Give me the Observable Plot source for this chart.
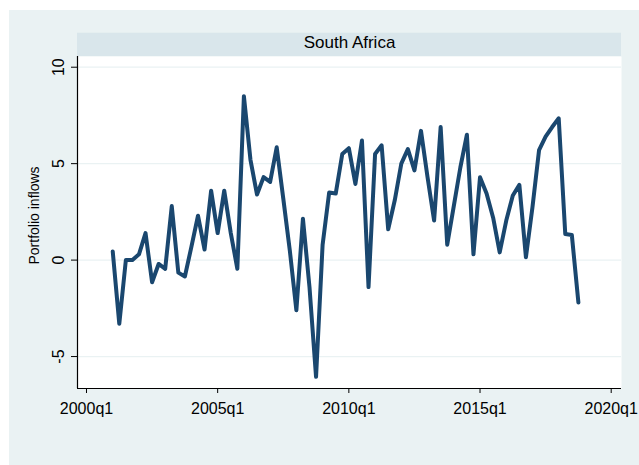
<!DOCTYPE html>
<html><head><meta charset="utf-8">
<script src="https://cdn.jsdelivr.net/npm/d3@7"></script>
<script src="https://cdn.jsdelivr.net/npm/@observablehq/plot@0.6"></script>
<style>
body{margin:0;background:#fff;width:639px;height:465px;overflow:hidden;position:relative;font-family:"Liberation Sans",Arial,sans-serif}
#bg{position:absolute;left:9px;top:10px;width:630px;height:455px;background:#eaf2f3}
#chart{position:absolute;left:0;top:0}
</style></head><body><div id="bg"></div><div id="chart"></div>
<script>
const quarters = [
  "2001q1","2001q2","2001q3","2001q4","2002q1","2002q2","2002q3","2002q4",
  "2003q1","2003q2","2003q3","2003q4","2004q1","2004q2","2004q3","2004q4",
  "2005q1","2005q2","2005q3","2005q4","2006q1","2006q2","2006q3","2006q4",
  "2007q1","2007q2","2007q3","2007q4","2008q1","2008q2","2008q3","2008q4",
  "2009q1","2009q2","2009q3","2009q4","2010q1","2010q2","2010q3","2010q4",
  "2011q1","2011q2","2011q3","2011q4","2012q1","2012q2","2012q3","2012q4",
  "2013q1","2013q2","2013q3","2013q4","2014q1","2014q2","2014q3","2014q4",
  "2015q1","2015q2","2015q3","2015q4","2016q1","2016q2","2016q3","2016q4",
  "2017q1","2017q2","2017q3","2017q4","2018q1","2018q2","2018q3","2018q4"
];
const inflows = [
  0.45, -3.3, 0.0, 0.0,   0.3, 1.4, -1.15, -0.2,
  -0.45, 2.8, -0.65, -0.85, 0.7, 2.3, 0.55, 3.6,
  1.4, 3.6, 1.4, -0.45,   8.5, 5.2, 3.4, 4.3,
  4.05, 5.85, 3.2, 0.5,   -2.6, 2.15, -1.4, -6.05,
  0.8, 3.5, 3.45, 5.5,    5.8, 3.95, 6.2, -1.4,
  5.5, 5.95, 1.6, 3.1,    5.0, 5.75, 4.65, 6.7,
  4.3, 2.05, 6.9, 0.8,    2.8, 4.8, 6.5, 0.3,
  4.3, 3.45, 2.2, 0.4,    2.05, 3.35, 3.9, 0.15,
  2.75, 5.7, 6.4, 6.9,    7.35, 1.35, 1.3, -2.2
];
const xTicks = [2000, 2005, 2010, 2015, 2020];
const yTicks = [-5, 0, 5, 10];
const panelTitle = "South Africa";
const yTitle = "Portfolio inflows";

function qToYear(s){ const [y,q] = s.split("q"); return +y + (+q - 1) / 4; }
const data = quarters.map((q, i) => ({t: qToYear(q), v: inflows[i]}));

const W = 639, H = 465, mL = 77, mR = 18, mT = 56, mB = 77;
const xDomain = [1999.657, 2020.393];
const yDomain = [-6.656, 10.555];
const font = "Liberation Sans, Arial, sans-serif";

const chart = Plot.plot({
  width: W, height: H,
  marginLeft: mL, marginRight: mR, marginTop: mT, marginBottom: mB,
  style: {background: "transparent", fontFamily: font, color: "#000", overflow: "visible"},
  x: {domain: xDomain, label: null},
  y: {domain: yDomain, label: null},
  marks: [
    Plot.frame({fill: "white", stroke: null}),
    Plot.gridY(yTicks, {stroke: "#eaf2f3", strokeOpacity: 1, strokeWidth: 1.3}),
    Plot.axisX(xTicks, {tickSize: 5, tickPadding: 9, tickFormat: d => d + "q1", fontSize: 16, stroke: "#000", strokeOpacity: 1}),
    Plot.axisY(yTicks, {tickSize: 6, tickFormat: () => "", stroke: "#000", strokeOpacity: 1}),
    Plot.text(yTicks, {y: d => d, frameAnchor: "left", rotate: -90, dx: -18.6, textAnchor: "middle", lineAnchor: "middle", text: d => String(d), fontSize: 16, fill: "#000"}),
    Plot.text([yTitle], {frameAnchor: "left", rotate: -90, dx: -43, dy: -7, textAnchor: "middle", lineAnchor: "middle", text: d => d, fontSize: 14, fill: "#000"}),
    Plot.text([panelTitle], {frameAnchor: "top", dy: -13.7, textAnchor: "middle", lineAnchor: "middle", text: d => d, fontSize: 17, fill: "#000"}),
    Plot.ruleX([xDomain[0]], {stroke: "#000", strokeWidth: 1.2}),
    Plot.ruleY([yDomain[0]], {stroke: "#000", strokeWidth: 1.2}),
    Plot.line(data, {x: "t", y: "v", stroke: "#1a476f", strokeWidth: 4})
  ]
});

// header band above the plot region
d3.select(chart).insert("rect", ":first-child")
  .attr("x", mL).attr("y", 32.7)
  .attr("width", W - mL - mR).attr("height", mT - 32.7)
  .attr("fill", "#d9e6eb");

document.getElementById("chart").appendChild(chart);
</script>
</body></html>
